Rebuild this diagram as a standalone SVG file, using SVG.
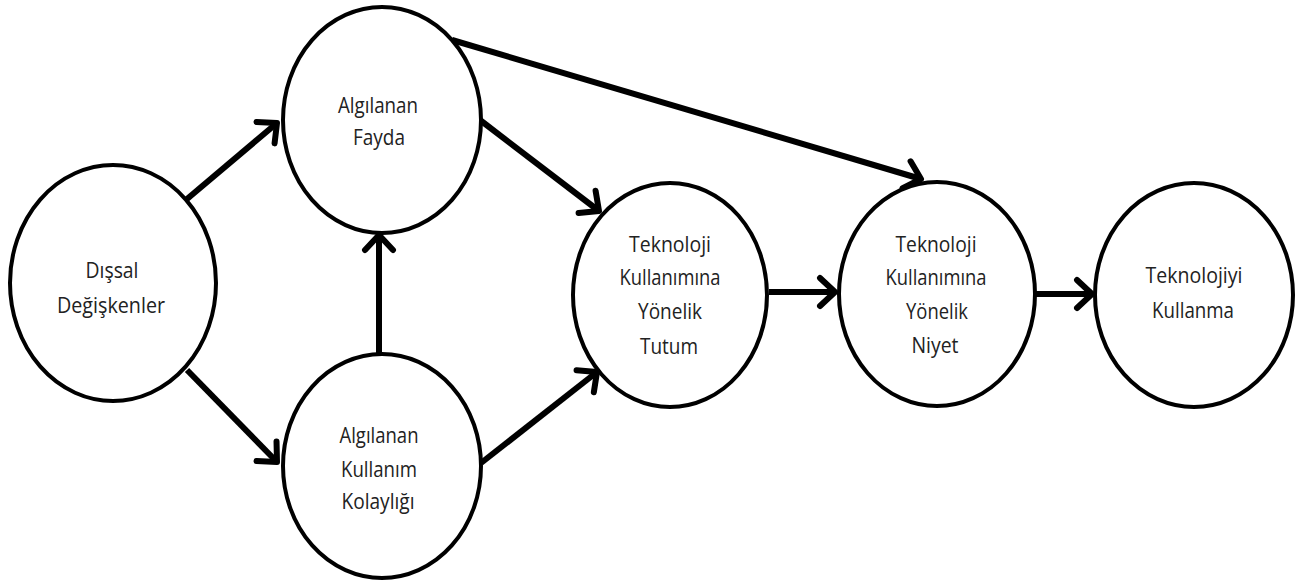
<svg xmlns="http://www.w3.org/2000/svg" width="1303" height="581" viewBox="0 0 1303 581">
<defs>
<style>
.node{fill:#fff;stroke:#000;stroke-width:4}
.lbl{font-family:"Open Sans","Noto Sans","DejaVu Sans",sans-serif;font-size:22.5px;fill:#222;text-anchor:middle}
.edge{stroke:#000;stroke-width:6;fill:none;marker-end:url(#ah)}
</style>
<marker id="ah" markerUnits="userSpaceOnUse" viewBox="-22 -18 26 36" markerWidth="26" markerHeight="36" refX="0" refY="0" orient="auto">
<path d="M-15,-14 L0,0 L-15,14" fill="none" stroke="#000" stroke-width="6" stroke-linecap="round" stroke-linejoin="round"/>
</marker>
</defs>
<rect width="1303" height="581" fill="#fff"/>
<g id="connectors">
<line class="edge" x1="187" y1="199" x2="277" y2="123"/>
<line class="edge" x1="187" y1="370" x2="277" y2="462"/>
<line class="edge" x1="379" y1="356" x2="379" y2="235"/>
<line class="edge" x1="480" y1="120" x2="599" y2="211"/>
<line class="edge" x1="481" y1="463" x2="597" y2="372"/>
<line class="edge" x1="452" y1="40" x2="921" y2="179"/>
<line class="edge" x1="769" y1="292" x2="835" y2="292"/>
<line class="edge" x1="1036" y1="294" x2="1092" y2="294"/>
</g>
<g id="n-dissal">
<ellipse class="node" cx="113" cy="283" rx="103" ry="118"/>
<text class="lbl" x="112" y="278" textLength="53" lengthAdjust="spacingAndGlyphs">Dışsal</text>
<text class="lbl" x="111" y="313" textLength="108" lengthAdjust="spacingAndGlyphs">Değişkenler</text>
</g>
<g id="n-fayda">
<ellipse class="node" cx="382" cy="120" rx="99" ry="113"/>
<text class="lbl" x="378" y="113" textLength="80" lengthAdjust="spacingAndGlyphs">Algılanan</text>
<text class="lbl" x="379" y="145" textLength="52" lengthAdjust="spacingAndGlyphs">Fayda</text>
</g>
<g id="n-kolaylik">
<ellipse class="node" cx="382" cy="466" rx="99" ry="112"/>
<text class="lbl" x="379" y="443" textLength="79" lengthAdjust="spacingAndGlyphs">Algılanan</text>
<text class="lbl" x="379" y="477" textLength="76" lengthAdjust="spacingAndGlyphs">Kullanım</text>
<text class="lbl" x="378" y="509" textLength="73" lengthAdjust="spacingAndGlyphs">Kolaylığı</text>
</g>
<g id="n-tutum">
<ellipse class="node" cx="670" cy="295" rx="97" ry="112"/>
<text class="lbl" x="670" y="252" textLength="82" lengthAdjust="spacingAndGlyphs">Teknoloji</text>
<text class="lbl" x="670" y="285" textLength="101" lengthAdjust="spacingAndGlyphs">Kullanımına</text>
<text class="lbl" x="670" y="319" textLength="64" lengthAdjust="spacingAndGlyphs">Yönelik</text>
<text class="lbl" x="669" y="354" textLength="58" lengthAdjust="spacingAndGlyphs">Tutum</text>
</g>
<g id="n-niyet">
<ellipse class="node" cx="937" cy="294" rx="98" ry="112"/>
<text class="lbl" x="936" y="252" textLength="81" lengthAdjust="spacingAndGlyphs">Teknoloji</text>
<text class="lbl" x="936" y="285" textLength="101" lengthAdjust="spacingAndGlyphs">Kullanımına</text>
<text class="lbl" x="937" y="319" textLength="62" lengthAdjust="spacingAndGlyphs">Yönelik</text>
<text class="lbl" x="935" y="353" textLength="47" lengthAdjust="spacingAndGlyphs">Niyet</text>
</g>
<g id="n-kullanma">
<ellipse class="node" cx="1194" cy="295" rx="99" ry="112"/>
<text class="lbl" x="1194" y="283" textLength="97" lengthAdjust="spacingAndGlyphs">Teknolojiyi</text>
<text class="lbl" x="1193" y="318" textLength="82" lengthAdjust="spacingAndGlyphs">Kullanma</text>
</g>
</svg>
